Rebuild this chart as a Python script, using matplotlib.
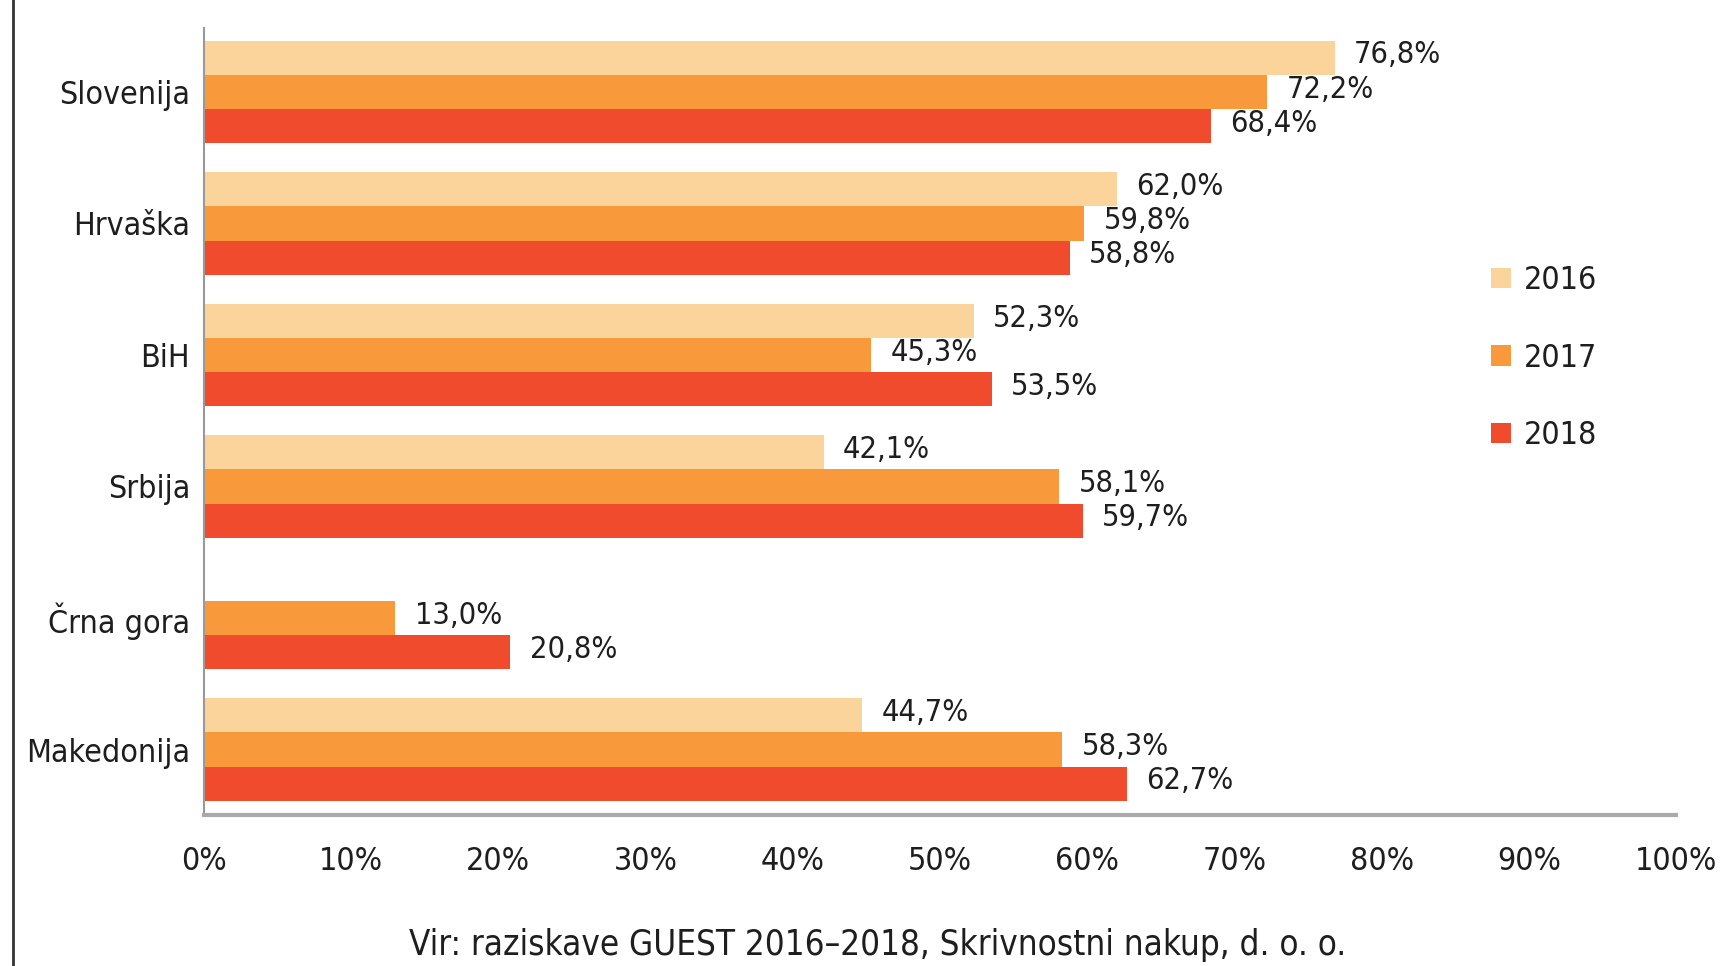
import numpy as np
import matplotlib.pyplot as plt
from matplotlib.lines import Line2D
from matplotlib.patches import Patch

plt.rcParams['font.family'] = ['Liberation Sans Narrow', 'DejaVu Sans']
plt.rcParams['font.stretch'] = 'condensed'

countries = ['Slovenija', 'Hrvaška', 'BiH', 'Srbija', 'Črna gora', 'Makedonija']
years = ['2016', '2017', '2018']
v2016 = [76.8, 62.0, 52.3, 42.1, None, 44.7]
v2017 = [72.2, 59.8, 45.3, 58.1, 13.0, 58.3]
v2018 = [68.4, 58.8, 53.5, 59.7, 20.8, 62.7]
colors = ['#fbd49c', '#f89a3c', '#ef4b2c']
source = 'Vir: raziskave GUEST 2016–2018, Skrivnostni nakup, d. o. o.'

def fmt(v):
    return f'{v:.1f}'.replace('.', ',') + '%'

fig = plt.figure(figsize=(17.28, 9.66), dpi=100)
ax = fig.add_axes([0.118, 0.156, 0.852, 0.815])

y = np.arange(len(countries))
h = 0.26
series = [v2016, v2017, v2018]
for k, vals in enumerate(series):
    for i, v in enumerate(vals):
        if v is None:
            continue
        yy = y[i] + (k - 1) * h
        ax.barh(yy, v, height=h, color=colors[k], edgecolor='none')
        ax.annotate(fmt(v), (v, yy), xytext=(14, 2), textcoords='offset points',
                    va='center', ha='left', fontsize=22, color='#1e1e1e')

ax.set_xlim(0, 100)
ax.set_ylim(5.5, -0.486)
ax.set_yticks(y)
ax.set_yticklabels(countries, fontsize=23, color='#1e1e1e')
ax.set_xticks(np.arange(0, 101, 10))
ax.set_xticklabels([f'{t}%' for t in range(0, 101, 10)], fontsize=23, color='#1e1e1e')
ax.tick_params(axis='both', length=0)
ax.tick_params(axis='x', pad=22)
ax.tick_params(axis='y', pad=10)
for s in ['top', 'right']:
    ax.spines[s].set_visible(False)
ax.spines['left'].set_color('#999999')
ax.spines['left'].set_linewidth(1.5)
ax.spines['bottom'].set_color('#aaaaaa')
ax.spines['bottom'].set_linewidth(3)

handles = [Patch(facecolor=c, edgecolor='none') for c in colors]
ax.legend(handles, years, loc='upper left', bbox_to_anchor=(0.855, 0.735), frameon=False,
          fontsize=23, handlelength=0.6, handleheight=0.6, handletextpad=0.4,
          labelspacing=1.45, labelcolor='#1e1e1e')

fig.text(0.508, 0.004, source, ha='center', va='bottom', fontsize=25, color='#1e1e1e')
fig.add_artist(Line2D([0.0075, 0.0075], [0, 1], transform=fig.transFigure,
                      color='#333333', lw=2))

fig.savefig('out.png', dpi=100)
